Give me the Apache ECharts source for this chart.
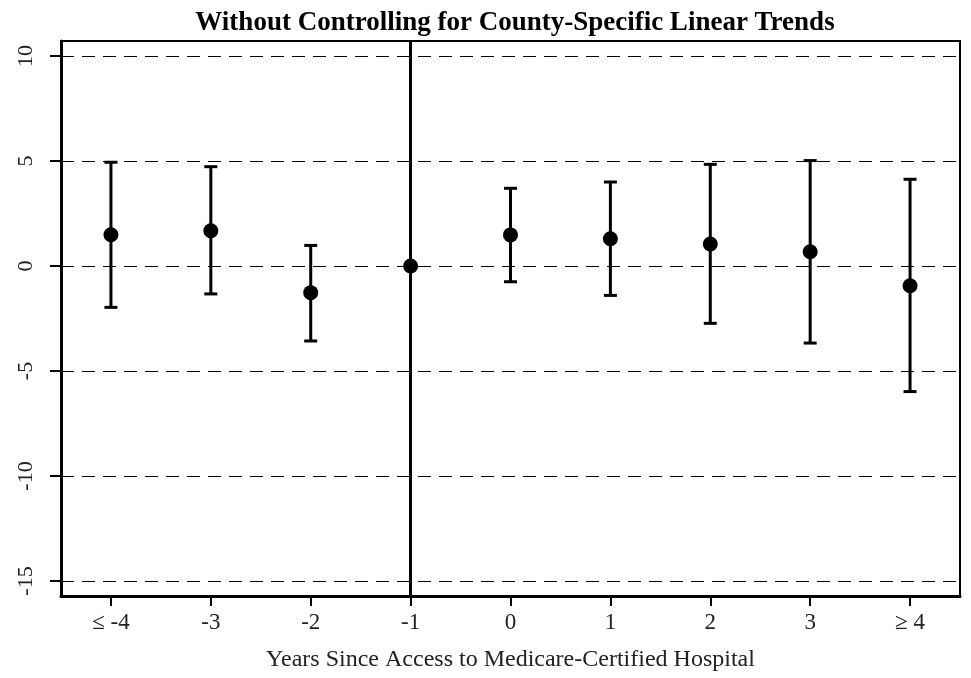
<!DOCTYPE html>
<html>
<head>
<meta charset="utf-8">
<script src="https://cdn.jsdelivr.net/npm/echarts@6/dist/echarts.min.js"></script>
<style>
html,body{margin:0;padding:0;background:#fff;}
#chart{width:971px;height:678px;}
</style>
</head>
<body>
<div id="chart"></div>
<script>
var categories = ['\u2264 -4', '-3', '-2', '-1', '0', '1', '2', '3', '\u2265 4'];
var estimates = [1.49, 1.68, -1.27, 0, 1.48, 1.30, 1.05, 0.68, -0.94];
var lowerCI = [-1.97, -1.33, -3.57, null, -0.75, -1.40, -2.73, -3.67, -5.98];
var upperCI = [4.94, 4.73, 0.98, null, 3.70, 4.00, 4.84, 5.02, 4.13];
var yTicks = [-15, -10, -5, 0, 5, 10];
var refCategory = '-1';
var titleText = 'Without Controlling for County-Specific Linear Trends';
var xAxisTitle = 'Years Since Access to Medicare-Certified Hospital';

var font = '"Liberation Serif", "DejaVu Serif", serif';

var errData = [];
for (var i = 0; i < categories.length; i++) {
  if (lowerCI[i] !== null) errData.push([i, lowerCI[i], upperCI[i]]);
}
var pointData = estimates.map(function (v, i) { return [i, v]; });

var chart = echarts.init(document.getElementById('chart'), null, {renderer: 'canvas'});
chart.setOption({
  backgroundColor: '#fff',
  animation: false,
  title: {
    text: titleText,
    left: 510, textAlign: 'center', top: 5,
    textStyle: {fontFamily: font, fontWeight: 'bold', fontSize: 27, color: '#000'}
  },
  grid: {left: 61, right: 11, top: 41, bottom: 82, show: true, borderColor: '#000', borderWidth: 2, backgroundColor: 'transparent'},
  xAxis: {
    type: 'category',
    data: categories,
    boundaryGap: true,
    name: xAxisTitle,
    nameLocation: 'middle',
    nameGap: 52,
    nameTextStyle: {fontFamily: font, fontSize: 24, color: '#222'},
    axisLine: {show: true, onZero: false, lineStyle: {color: '#000', width: 3}},
    axisTick: {show: true, alignWithLabel: true, length: 10, lineStyle: {color: '#000', width: 2}},
    axisLabel: {fontFamily: font, fontSize: 23, color: '#222', margin: 15},
    splitLine: {show: false}
  },
  yAxis: {
    type: 'value',
    min: -15.714, max: 10.714,
    axisLine: {show: true, onZero: false, lineStyle: {color: '#000', width: 3}},
    axisTick: {show: false},
    axisLabel: {fontFamily: font, fontSize: 22, color: '#222', rotate: 90, margin: 24, customValues: yTicks},
    splitLine: {show: false}
  },
  series: [
    {
      type: 'custom',
      data: errData,
      z: 3,
      renderItem: function (params, api) {
        var x = api.value(0);
        var lo = api.coord([x, api.value(1)]);
        var hi = api.coord([x, api.value(2)]);
        var hw = 6.5;
        var st = {stroke: '#000', lineWidth: 3};
        return {
          type: 'group',
          children: [
            {type: 'line', shape: {x1: lo[0], y1: lo[1], x2: hi[0], y2: hi[1]}, style: st},
            {type: 'line', shape: {x1: lo[0] - hw, y1: lo[1], x2: lo[0] + hw, y2: lo[1]}, style: st},
            {type: 'line', shape: {x1: hi[0] - hw, y1: hi[1], x2: hi[0] + hw, y2: hi[1]}, style: st}
          ]
        };
      }
    },
    {
      type: 'scatter',
      data: pointData,
      symbol: 'circle',
      symbolSize: 15,
      z: 4,
      itemStyle: {color: '#000', opacity: 1},
      markLine: {
        silent: true,
        symbol: 'none',
        label: {show: false},
        data: yTicks.map(function (t) {
          return {yAxis: t, lineStyle: {type: [13, 8], color: '#000', width: 1}};
        }).concat([{xAxis: refCategory, lineStyle: {type: 'solid', color: '#000', width: 3}}])
      }
    }
  ]
});

// y-axis tick marks at the labelled values, positioned through the axis scales
var c0 = chart.convertToPixel({xAxisIndex: 0}, 0);
var c1 = chart.convertToPixel({xAxisIndex: 0}, 1);
var axisX = c0 - (c1 - c0) / 2;
chart.setOption({
  graphic: yTicks.map(function (t) {
    var py = chart.convertToPixel({yAxisIndex: 0}, t);
    return {type: 'line', z: 10, silent: true,
      shape: {x1: axisX - 11, y1: py, x2: axisX, y2: py},
      style: {stroke: '#000', lineWidth: 2}};
  })
});
</script>
</body>
</html>
